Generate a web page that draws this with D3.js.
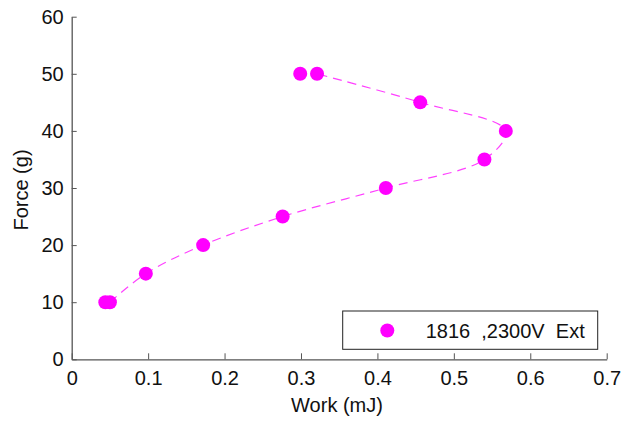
<!DOCTYPE html>
<html>
<head>
<meta charset="utf-8">
<script src="https://cdn.jsdelivr.net/npm/d3@7"></script>
<style>
  body { margin: 0; background: #fff; }
  svg { display: block; }
  text { font-family: "Liberation Sans", Arial, sans-serif; }
</style>
</head>
<body>
<div id="chart"></div>
<script>
// data (work in mJ, force in g)
const work = [0.044, 0.050, 0.097, 0.172, 0.276, 0.411, 0.540, 0.568, 0.456, 0.321, 0.299];
const force = [10, 10, 15, 20, 25, 30, 35, 40, 45, 50, 50];
const xTicks = [0, 0.1, 0.2, 0.3, 0.4, 0.5, 0.6, 0.7];
const yTicks = [0, 10, 20, 30, 40, 50, 60];
const seriesName = "1816  ,2300V  Ext";

const width = 621, height = 421;
const margin = { top: 16.7, right: 14.3, bottom: 61.7, left: 71.7 };
const color = "#ff00ff";
const fontSize = 20;

const svg = d3.select("#chart").append("svg")
  .attr("width", width)
  .attr("height", height);

const x = d3.scaleLinear().domain([0, 0.7]).range([margin.left, width - margin.right]);
const y = d3.scaleLinear().domain([0, 60]).range([height - margin.bottom, margin.top]);

// axes, ticks point inward
const xAxis = svg.append("g")
  .attr("transform", `translate(0,${y(0)})`)
  .call(d3.axisBottom(x).tickValues(xTicks).tickSizeInner(-6).tickSizeOuter(0).tickPadding(12)
    .tickFormat(d => d === 0 ? "0" : d3.format(".1f")(d)));

const yAxis = svg.append("g")
  .attr("transform", `translate(${x(0)},0)`)
  .call(d3.axisLeft(y).tickValues(yTicks).tickSizeInner(-5).tickSizeOuter(0).tickPadding(8));

[xAxis, yAxis].forEach(g => {
  g.attr("font-family", null).attr("font-size", null);
  g.select(".domain").attr("stroke", "#555").attr("stroke-width", 1.3);
  g.selectAll(".tick line").attr("stroke", "#555");
  g.selectAll(".tick text").attr("font-size", fontSize).attr("fill", "#111");
});

// axis titles
svg.append("text")
  .attr("x", 337)
  .attr("y", 412)
  .attr("text-anchor", "middle")
  .attr("font-size", fontSize)
  .attr("fill", "#111")
  .text("Work (mJ)");

svg.append("text")
  .attr("transform", "translate(28,190) rotate(-90)")
  .attr("text-anchor", "middle")
  .attr("font-size", fontSize)
  .attr("fill", "#111")
  .text("Force (g)");

const pts = work.map((w, i) => ({ w: w, f: force[i] }));

// smoothed dashed line through the points
const line = d3.line()
  .x(d => x(d.w))
  .y(d => y(d.f))
  .curve(d3.curveCatmullRom.alpha(0.5));

svg.append("path")
  .datum(pts.slice(1, 10))
  .attr("d", line)
  .attr("fill", "none")
  .attr("stroke", color)
  .attr("stroke-opacity", 0.75)
  .attr("stroke-width", 1.2)
  .attr("stroke-dasharray", "9,6");

svg.selectAll(".pt")
  .data(pts)
  .enter().append("circle")
  .attr("class", "pt")
  .attr("cx", d => x(d.w))
  .attr("cy", d => y(d.f))
  .attr("r", 7)
  .attr("fill", color);

// legend
const lg = svg.append("g");
lg.append("rect")
  .attr("x", 342.7)
  .attr("y", 311)
  .attr("width", 255)
  .attr("height", 38.3)
  .attr("fill", "#fff")
  .attr("stroke", "#222")
  .attr("stroke-width", 1);
lg.append("circle")
  .attr("cx", 387.3)
  .attr("cy", 330.5)
  .attr("r", 7)
  .attr("fill", color);
lg.append("text")
  .attr("x", 425.7)
  .attr("y", 337.5)
  .attr("font-size", fontSize)
  .attr("fill", "#111")
  .style("white-space", "pre")
  .text(seriesName);
</script>
</body>
</html>
